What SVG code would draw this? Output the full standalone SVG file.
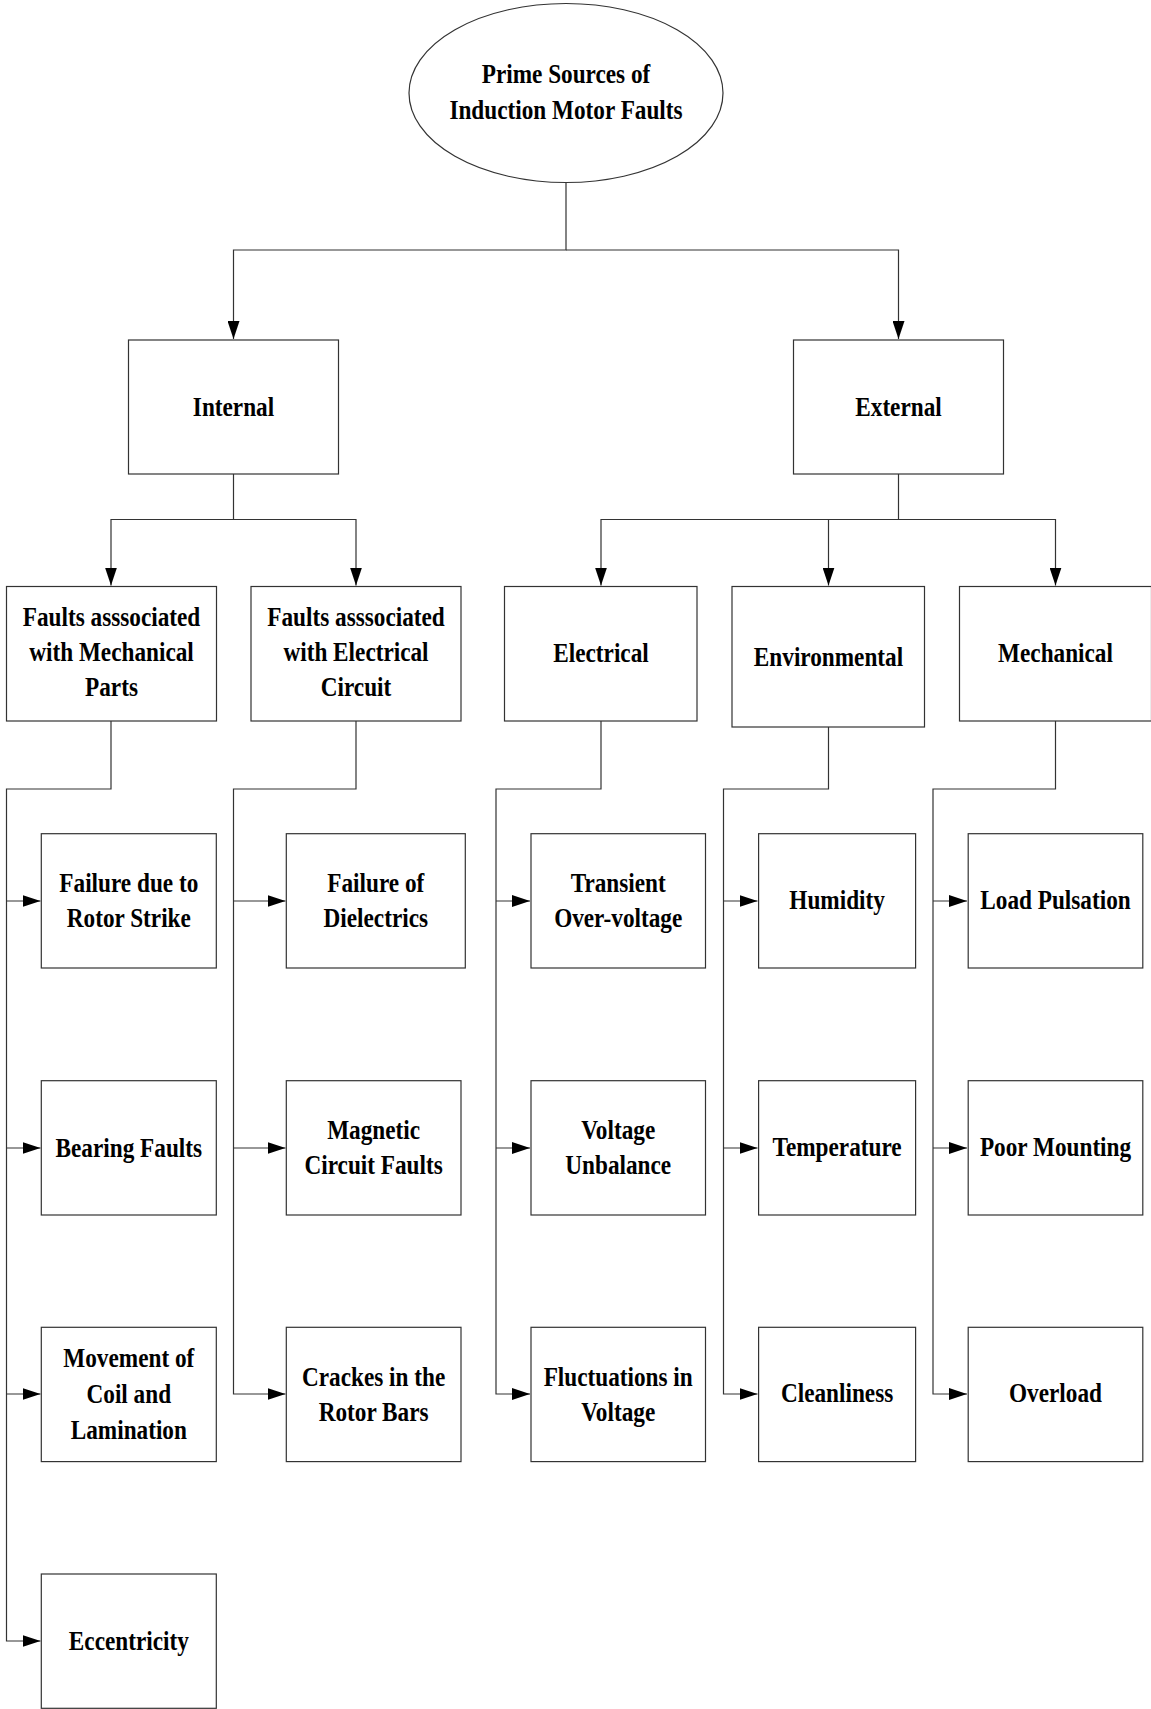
<svg xmlns="http://www.w3.org/2000/svg" width="1151" height="1709" viewBox="0 0 1151 1709">
<style>
.n{fill:#fff;stroke:#333;stroke-width:1.2}
.c{fill:none;stroke:#333;stroke-width:1.2}
.t{font-family:"Liberation Serif","Times New Roman",serif;font-weight:bold;font-size:28px;fill:#000;text-anchor:middle}
</style>
<defs>
<marker id="ah" markerUnits="userSpaceOnUse" markerWidth="18" markerHeight="12" refX="18" refY="6" orient="auto">
<path d="M0,0 L18,6 L0,12 z" fill="#000"/>
</marker>
</defs>
<rect width="1151" height="1709" fill="#fff"/>
<g id="connectors">
<path class="c" d="M566 182.5 V250 H233.5 V339" marker-end="url(#ah)"/>
<path class="c" d="M566 250 H898.5 V339" marker-end="url(#ah)"/>
<path class="c" d="M233.5 474 V519.5 H111 V585.5" marker-end="url(#ah)"/>
<path class="c" d="M233.5 519.5 H356 V585.5" marker-end="url(#ah)"/>
<path class="c" d="M898.5 474 V519.5 H601 V585.5" marker-end="url(#ah)"/>
<path class="c" d="M898.5 519.5 H1055.5 V585.5" marker-end="url(#ah)"/>
<path class="c" d="M828.5 519.5 V585.5" marker-end="url(#ah)"/>
<path class="c" d="M111 721 V789 H6.5 V1641 H40.5" marker-end="url(#ah)"/>
<path class="c" d="M6.5 901 H40.5" marker-end="url(#ah)"/>
<path class="c" d="M6.5 1148 H40.5" marker-end="url(#ah)"/>
<path class="c" d="M6.5 1394 H40.5" marker-end="url(#ah)"/>
<path class="c" d="M356 721 V789 H233.5 V1394 H285.5" marker-end="url(#ah)"/>
<path class="c" d="M233.5 901 H285.5" marker-end="url(#ah)"/>
<path class="c" d="M233.5 1148 H285.5" marker-end="url(#ah)"/>
<path class="c" d="M601 721 V789 H496 V1394 H530" marker-end="url(#ah)"/>
<path class="c" d="M496 901 H530" marker-end="url(#ah)"/>
<path class="c" d="M496 1148 H530" marker-end="url(#ah)"/>
<path class="c" d="M828.5 727 V789 H723.5 V1394 H757.5" marker-end="url(#ah)"/>
<path class="c" d="M723.5 901 H757.5" marker-end="url(#ah)"/>
<path class="c" d="M723.5 1148 H757.5" marker-end="url(#ah)"/>
<path class="c" d="M1055.5 721 V789 H933 V1394 H967" marker-end="url(#ah)"/>
<path class="c" d="M933 901 H967" marker-end="url(#ah)"/>
<path class="c" d="M933 1148 H967" marker-end="url(#ah)"/>
</g>
<g id="root">
<ellipse class="n" cx="566" cy="93" rx="157" ry="89.5"/>
<text class="t" transform="translate(566,0) scale(0.83,1)"><tspan x="0" y="83.5">Prime Sources of</tspan><tspan x="0" y="119.5">Induction Motor Faults</tspan></text>
</g>
<g id="internal">
<rect class="n" x="128.5" y="340" width="210" height="134"/>
<text class="t" transform="translate(233.5,0) scale(0.83,1)" y="416">Internal</text>
</g>
<g id="external">
<rect class="n" x="793.5" y="340" width="210" height="134"/>
<text class="t" transform="translate(898.5,0) scale(0.83,1)" y="416">External</text>
</g>
<g id="mech-parts">
<rect class="n" x="6.5" y="586.5" width="210" height="134.5"/>
<text class="t" transform="translate(111.5,0) scale(0.83,1)"><tspan x="0" y="626">Faults asssociated</tspan><tspan x="0" y="661">with Mechanical</tspan><tspan x="0" y="696">Parts</tspan></text>
</g>
<g id="elec-circuit">
<rect class="n" x="251" y="586.5" width="210" height="134.5"/>
<text class="t" transform="translate(356,0) scale(0.83,1)"><tspan x="0" y="626">Faults asssociated</tspan><tspan x="0" y="661">with Electrical</tspan><tspan x="0" y="696">Circuit</tspan></text>
</g>
<g id="electrical">
<rect class="n" x="504.5" y="586.5" width="192.5" height="134.5"/>
<text class="t" transform="translate(601,0) scale(0.83,1)" y="662">Electrical</text>
</g>
<g id="environmental">
<rect class="n" x="732" y="586.5" width="192.5" height="140.5"/>
<text class="t" transform="translate(828.5,0) scale(0.83,1)" y="666">Environmental</text>
</g>
<g id="mechanical">
<rect class="n" x="959.5" y="586.5" width="192" height="134.5"/>
<text class="t" transform="translate(1055.5,0) scale(0.83,1)" y="662">Mechanical</text>
</g>
<g id="rotor-strike">
<rect class="n" x="41.3" y="833.7" width="175" height="134.3"/>
<text class="t" transform="translate(128.8,0) scale(0.83,1)"><tspan x="0" y="892.5">Failure due to</tspan><tspan x="0" y="927.5">Rotor Strike</tspan></text>
</g>
<g id="bearing">
<rect class="n" x="41.3" y="1080.7" width="175" height="134.3"/>
<text class="t" transform="translate(128.8,0) scale(0.83,1)" y="1157">Bearing Faults</text>
</g>
<g id="coil">
<rect class="n" x="41.3" y="1327.3" width="175" height="134.3"/>
<text class="t" transform="translate(128.8,0) scale(0.83,1)"><tspan x="0" y="1367.5">Movement of</tspan><tspan x="0" y="1403.5">Coil and</tspan><tspan x="0" y="1439.5">Lamination</tspan></text>
</g>
<g id="eccentricity">
<rect class="n" x="41.3" y="1574" width="175" height="134.3"/>
<text class="t" transform="translate(128.8,0) scale(0.83,1)" y="1650">Eccentricity</text>
</g>
<g id="dielectrics">
<rect class="n" x="286.3" y="833.7" width="179" height="134.3"/>
<text class="t" transform="translate(375.8,0) scale(0.83,1)"><tspan x="0" y="892.5">Failure of</tspan><tspan x="0" y="927.5">Dielectrics</tspan></text>
</g>
<g id="magnetic">
<rect class="n" x="286.3" y="1080.7" width="174.7" height="134.3"/>
<text class="t" transform="translate(373.6,0) scale(0.83,1)"><tspan x="0" y="1139.5">Magnetic</tspan><tspan x="0" y="1174.5">Circuit Faults</tspan></text>
</g>
<g id="cracks">
<rect class="n" x="286.3" y="1327.3" width="174.7" height="134.3"/>
<text class="t" transform="translate(373.6,0) scale(0.83,1)"><tspan x="0" y="1386">Crackes in the</tspan><tspan x="0" y="1421">Rotor Bars</tspan></text>
</g>
<g id="transient">
<rect class="n" x="531" y="833.7" width="174.5" height="134.3"/>
<text class="t" transform="translate(618.2,0) scale(0.83,1)"><tspan x="0" y="892.5">Transient</tspan><tspan x="0" y="927.5">Over-voltage</tspan></text>
</g>
<g id="unbalance">
<rect class="n" x="531" y="1080.7" width="174.5" height="134.3"/>
<text class="t" transform="translate(618.2,0) scale(0.83,1)"><tspan x="0" y="1139.5">Voltage</tspan><tspan x="0" y="1174.5">Unbalance</tspan></text>
</g>
<g id="fluctuations">
<rect class="n" x="531" y="1327.3" width="174.5" height="134.3"/>
<text class="t" transform="translate(618.2,0) scale(0.83,1)"><tspan x="0" y="1386">Fluctuations in</tspan><tspan x="0" y="1421">Voltage</tspan></text>
</g>
<g id="humidity">
<rect class="n" x="758.6" y="833.7" width="157" height="134.3"/>
<text class="t" transform="translate(837.1,0) scale(0.83,1)" y="909">Humidity</text>
</g>
<g id="temperature">
<rect class="n" x="758.6" y="1080.7" width="157" height="134.3"/>
<text class="t" transform="translate(837.1,0) scale(0.83,1)" y="1156">Temperature</text>
</g>
<g id="cleanliness">
<rect class="n" x="758.6" y="1327.3" width="157" height="134.3"/>
<text class="t" transform="translate(837.1,0) scale(0.83,1)" y="1402.5">Cleanliness</text>
</g>
<g id="load-pulsation">
<rect class="n" x="968.2" y="833.7" width="174.6" height="134.3"/>
<text class="t" transform="translate(1055.5,0) scale(0.83,1)" y="909">Load Pulsation</text>
</g>
<g id="poor-mounting">
<rect class="n" x="968.2" y="1080.7" width="174.6" height="134.3"/>
<text class="t" transform="translate(1055.5,0) scale(0.83,1)" y="1156">Poor Mounting</text>
</g>
<g id="overload">
<rect class="n" x="968.2" y="1327.3" width="174.6" height="134.3"/>
<text class="t" transform="translate(1055.5,0) scale(0.83,1)" y="1402.5">Overload</text>
</g>
</svg>
